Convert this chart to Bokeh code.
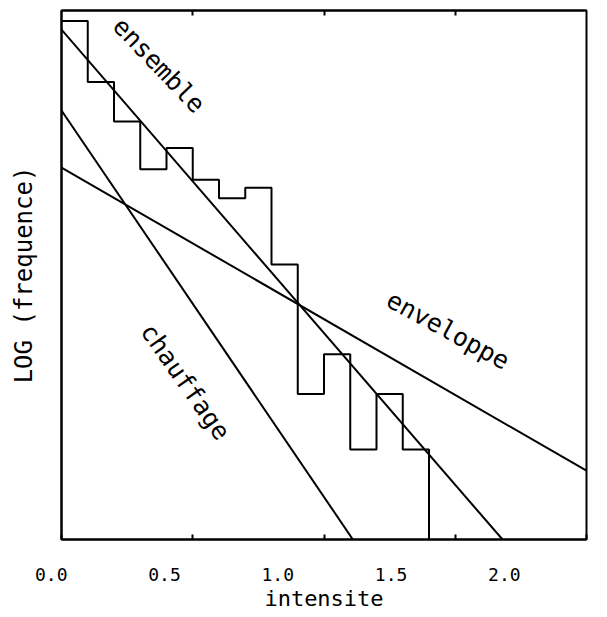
from bokeh.plotting import figure
from bokeh.models import Range1d, FixedTicker, LinearAxis, CustomLabelingPolicy
from bokeh.core.properties import value
from bokeh.embed import file_html
from bokeh.resources import INLINE

# --- data ---
bin_left = [0.0, 0.1, 0.2, 0.3, 0.4, 0.5, 0.6, 0.7, 0.8, 0.9, 1.0, 1.1, 1.2, 1.3]
bin_width = 0.1
log_freq = [9.8, 8.65, 7.9, 7.0, 7.4, 6.8, 6.45, 6.65, 5.2, 2.75, 3.5, 1.7, 2.75, 1.7]

ensemble_x = [0.0, 1.68]
ensemble_y = [9.64, 0.0]
chauffage_x = [0.0, 1.11]
chauffage_y = [8.11, 0.0]
enveloppe_x = [0.0, 2.0]
enveloppe_y = [7.03, 1.30]

tick_values = [0.0, 0.5, 1.0, 1.5, 2.0]
tick_labels = ["0.0", "0.5", "1.0", "1.5", "2.0"]

FONT = "DejaVu Sans Mono"

p = figure(width=598, height=615,
           x_range=Range1d(0, 2), y_range=Range1d(0, 10),
           output_backend="svg", toolbar_location=None,
           min_border_left=61, min_border_right=12,
           min_border_top=10, min_border_bottom=76)

p.background_fill_color = "white"
p.border_fill_color = "white"
p.xgrid.visible = False
p.ygrid.visible = False
p.outline_line_color = "black"
p.outline_line_width = 2

HIDE = """
    const ids = [...indices]
    for (const i of ids) indices.unset(i)
    return indices
"""

# bottom axis: inward tick marks only
xa = p.xaxis[0]
xa.ticker = FixedTicker(ticks=tick_values)
xa.major_tick_in = 5
xa.major_tick_out = 0
xa.minor_tick_line_color = None
xa.axis_line_width = 2
xa.major_tick_line_width = 2
xa.major_label_text_font_size = "1px"
xa.major_label_standoff = 0
xa.major_label_policy = CustomLabelingPolicy(code=HIDE)

# the plotter wrote its numbers on its own (shifted) scale, right-justified
p.extra_x_ranges = {"lbl": Range1d(-0.0265, 2.291)}
lab = LinearAxis(x_range_name="lbl",
                 ticker=FixedTicker(ticks=tick_values),
                 major_label_overrides={v: t for v, t in zip(tick_values, tick_labels)},
                 major_label_orientation=1e-6,
                 major_label_text_font=FONT,
                 major_label_text_font_size="18px",
                 major_label_text_color="black",
                 major_label_standoff=31,
                 major_tick_in=0, major_tick_out=0,
                 major_tick_line_color=None,
                 minor_tick_line_color=None,
                 axis_line_color=None,
                 axis_label="intensite",
                 axis_label_text_font=FONT,
                 axis_label_text_font_style="normal",
                 axis_label_text_font_size="22px",
                 axis_label_text_color="black",
                 axis_label_standoff=-5)
p.add_layout(lab, "below")

# top axis with inward ticks
top = LinearAxis(ticker=FixedTicker(ticks=tick_values[1:-1]),
                 major_tick_in=5, major_tick_out=0,
                 major_tick_line_width=2,
                 minor_tick_line_color=None,
                 major_label_text_font_size="1px",
                 major_label_policy=CustomLabelingPolicy(code=HIDE),
                 major_label_standoff=0, axis_line_width=2)
p.add_layout(top, "above")

ya = p.yaxis[0]
ya.ticker = FixedTicker(ticks=[])
ya.minor_tick_line_color = None
ya.major_tick_out = 0
ya.axis_line_width = 2
ya.axis_label = "LOG (frequence)"
ya.axis_label_text_font = FONT
ya.axis_label_text_font_style = "normal"
ya.axis_label_text_font_size = "24px"
ya.axis_label_text_color = "black"
ya.axis_label_standoff = 24

# histogram outline (steps)
hx, hy = [], []
for left, v in zip(bin_left, log_freq):
    hx += [left, left + bin_width]
    hy += [v, v]
hx.append(bin_left[-1] + bin_width)
hy.append(0.0)
p.line(hx, hy, line_color="black", line_width=2)

# fitted lines
p.line(ensemble_x, ensemble_y, line_color="black", line_width=2)
p.line(chauffage_x, chauffage_y, line_color="black", line_width=2)
p.line(enveloppe_x, enveloppe_y, line_color="black", line_width=2)

# line names
p.text(x=[0.213], y=[9.79], text=["ensemble"], angle=-0.81,
       text_font=value(FONT), text_font_size="25px",
       text_align="left", text_baseline="middle", text_color="black")
p.text(x=[0.324], y=[4.03], text=["chauffage"], angle=-0.96,
       text_font=value(FONT), text_font_size="25px",
       text_align="left", text_baseline="middle", text_color="black")
p.text(x=[1.246], y=[4.57], text=["enveloppe"], angle=-0.50,
       text_font=value(FONT), text_font_size="25px",
       text_align="left", text_baseline="middle", text_color="black")

open("out.html", "w").write(file_html(p, INLINE))
